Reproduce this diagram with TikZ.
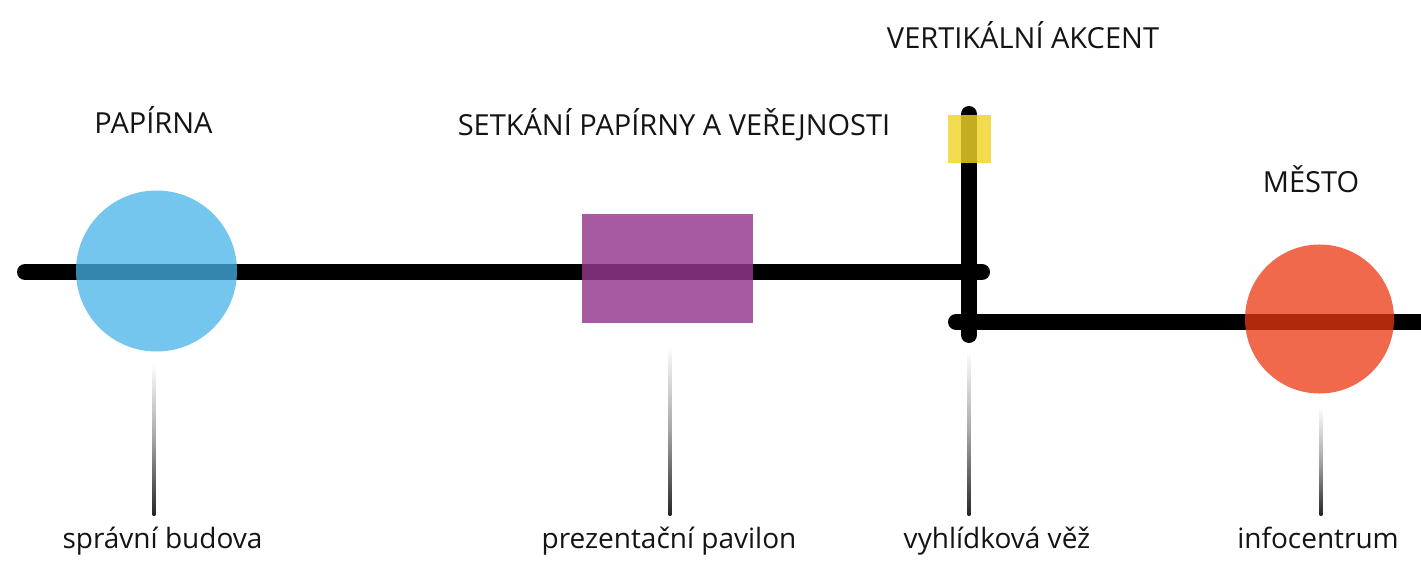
\documentclass[tikz,border=0pt]{standalone}
\usepackage{fontspec}
\setmainfont{Open Sans}
\usetikzlibrary{calc}
\definecolor{cblue}{RGB}{70,180,234}
\definecolor{cpurple}{RGB}{150,54,140}
\definecolor{cred}{RGB}{236,56,18}
\definecolor{cyellow}{RGB}{240,212,40}
\definecolor{lbl}{RGB}{20,20,20}
\tikzset{
  track/.style={line width=16pt, line cap=round, black},
  shapeA/.style={fill opacity=0.75, draw=none, inner sep=0pt},
  toplabel/.style={anchor=base, font=\fontsize{29}{34}\selectfont, text=lbl, inner sep=0pt},
  botlabel/.style={anchor=base, font=\fontsize{28}{34}\selectfont, text=lbl, inner sep=0pt},
  leader/.style={top color=white, bottom color=black!85, middle color=black!35},
}
\begin{document}
\begin{tikzpicture}[x=1pt,y=-1pt]
\useasboundingbox (0,0) rectangle (1421,577);
\clip (0,0) rectangle (1421,577);
\fill[white] (0,0) rectangle (1421,577);
% track coordinates
\coordinate (a1) at (25,272);
\coordinate (a2) at (982,272);
\coordinate (b1) at (956,322);
\coordinate (b2) at (1440,322);
\coordinate (t1) at (969,114);
\coordinate (t2) at (969,335);
\draw[track] (a1) -- (a2);
\draw[track] (b1) -- (b2);
\draw[track] (t1) -- (t2);
% shapes
\node[shapeA, circle, fill=cblue, minimum size=161pt] (papirna) at (156.5,271) {};
\node[shapeA, rectangle, fill=cpurple, fill opacity=0.82, minimum width=171pt, minimum height=109pt] (pavilon) at (667.5,268.5) {};
\node[shapeA, rectangle, fill=cyellow, fill opacity=0.82, minimum width=43pt, minimum height=48pt] (vez) at (969.5,139) {};
\node[shapeA, circle, fill=cred, minimum size=149pt] (mesto) at (1319.5,319) {};
% top labels
\node[toplabel] (l1) at (153.5,134) {PAPÍRNA};
\node[toplabel] (l2) at (674,136) {SETKÁNÍ PAPÍRNY A VEŘEJNOSTI};
\node[toplabel] (l3) at (1023,49) {VERTIKÁLNÍ AKCENT};
\node[toplabel] (l4) at (1311,193) {MĚSTO};
% bottom labels
\node[botlabel] (d1) at (162.5,548) {správní budova};
\node[botlabel] (d2) at (669,548) {prezentační pavilon};
\node[botlabel] (d3) at (997,548) {vyhlídková věž};
\node[botlabel] (d4) at (1318,548) {infocentrum};
% leader lines
\coordinate (s1) at (154,363); \coordinate (e1) at (154,515);
\coordinate (s2) at (670,345); \coordinate (e2) at (670,515);
\coordinate (s3) at (969,350); \coordinate (e3) at (969,515);
\coordinate (s4) at (1321,407); \coordinate (e4) at (1321,515);
\foreach \i in {1,2,3,4}{
  \shade[leader] ($(s\i)+(-1.3,0)$) rectangle ($(e\i)+(1.3,0)$);
}
\end{tikzpicture}
\end{document}
